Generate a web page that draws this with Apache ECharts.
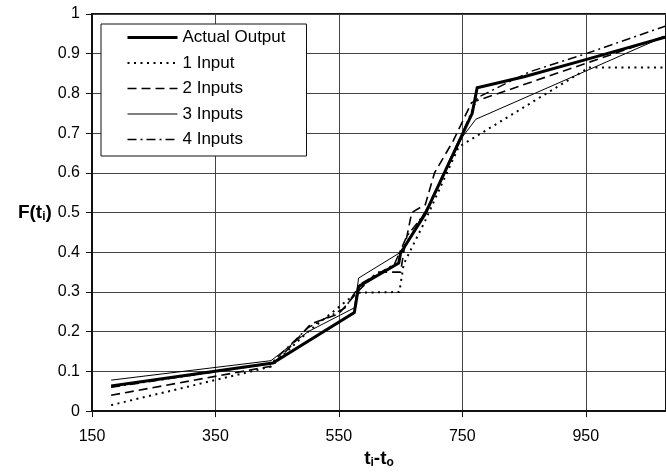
<!DOCTYPE html>
<html>
<head>
<meta charset="utf-8">
<script src="https://cdn.jsdelivr.net/npm/echarts@6/dist/echarts.min.js"></script>
<style>
html,body{margin:0;padding:0;background:#fff;}
#chart{width:666px;height:474px;}
</style>
</head>
<body>
<div id="chart"></div>
<script>
// X-axis tick labels
var xTicks = [150, 350, 550, 750, 950];

// Series data (x = t_i - t_o, y = F(t_i))
var actualX = [181, 443, 575, 582, 647, 650, 690, 766, 774, 850, 950, 1080];
var actualY = [0.063, 0.121, 0.248, 0.314, 0.373, 0.398, 0.497, 0.75, 0.814, 0.842, 0.885, 0.942];

var in1X = [181, 440, 500, 579, 648, 655, 690, 744, 955, 1080];
var in1Y = [0.015, 0.112, 0.2, 0.298, 0.3, 0.37, 0.48, 0.665, 0.865, 0.865];

var in2X = [181, 440, 470, 505, 550, 580, 612, 650, 655, 668, 690, 705, 735, 765, 1080];
var in2Y = [0.04, 0.113, 0.16, 0.22, 0.245, 0.3, 0.35, 0.35, 0.40, 0.5, 0.52, 0.6, 0.68, 0.777, 0.945];

var in3X = [181, 440, 500, 575, 582, 650, 700, 750, 772, 1080];
var in3Y = [0.078, 0.127, 0.2, 0.26, 0.335, 0.40, 0.53, 0.69, 0.735, 0.945];

var in4X = [181, 440, 500, 560, 585, 640, 660, 690, 720, 750, 775, 860, 950, 1080];
var in4Y = [0.06, 0.12, 0.21, 0.26, 0.32, 0.37, 0.44, 0.50, 0.60, 0.70, 0.79, 0.855, 0.9, 0.97];

var names = ['Actual Output', '1 Input', '2 Inputs', '3 Inputs', '4 Inputs'];

function pairs(xs, ys) {
  return xs.map(function (x, i) { return [x, ys[i]]; });
}

var chart = echarts.init(document.getElementById('chart'), null, {renderer: 'canvas'});
var FONT = 'Liberation Sans, Arial, sans-serif';

var styles = {
  'Actual Output': {type: 'solid', width: 3},
  '1 Input': {type: [2, 4.5], width: 2},
  '2 Inputs': {type: [9, 5], width: 1.6},
  '3 Inputs': {type: 'solid', width: 1},
  '4 Inputs': {type: [9, 4, 2, 4], width: 1.5}
};

function mk(name, xs, ys) {
  var s = styles[name];
  return {
    name: name,
    type: 'line',
    data: pairs(xs, ys),
    symbol: 'none',
    showSymbol: false,
    animation: false,
    lineStyle: {color: '#000', width: s.width, type: s.type, cap: 'butt', join: 'miter'},
    itemStyle: {color: '#000'}
  };
}

var subRich = {s: {fontFamily: FONT, fontSize: 12, fontWeight: 'bold', verticalAlign: 'bottom', padding: [9, 0, 0, 0], color: '#000'}};

var option = {
  animation: false,
  backgroundColor: '#fff',
  textStyle: {fontFamily: FONT},
  grid: {
    left: 92, top: 14, width: 574, height: 400,
    show: true, borderColor: '#111', borderWidth: 2, backgroundColor: 'transparent'
  },
  legend: {
    show: true,
    data: names.map(function (n) {
      return {
        name: n,
        itemStyle: {opacity: 0},
        lineStyle: {color: '#000', width: styles[n].width, type: styles[n].type, cap: 'butt'}
      };
    }),
    orient: 'vertical',
    left: 101, top: 24,
    padding: [5, 21, 8, 25],
    itemWidth: 50, itemHeight: 14, itemGap: 8.5,
    backgroundColor: '#fff',
    borderColor: '#111', borderWidth: 1,
    textStyle: {fontFamily: FONT, fontSize: 17, lineHeight: 17, color: '#000'},
    selectedMode: false
  },
  xAxis: {
    type: 'value',
    min: 150, max: 1080, interval: 200,
    name: 't{s|i}-t{s|o}',
    nameLocation: 'middle',
    nameGap: 32,
    nameTextStyle: {
      fontFamily: FONT, fontSize: 19, fontWeight: 'bold', color: '#000',
      rich: subRich
    },
    axisLine: {show: true, lineStyle: {color: '#111', width: 2}},
    axisTick: {show: true, inside: false, length: 6, lineStyle: {color: '#111', width: 1}},
    axisLabel: {
      fontFamily: FONT, fontSize: 16, color: '#000', margin: 17,
      showMaxLabel: false,
      formatter: function (v) { return xTicks.indexOf(v) >= 0 ? String(v) : ''; }
    },
    splitLine: {show: true, lineStyle: {color: '#444', width: 1}}
  },
  yAxis: {
    type: 'value',
    min: 0, max: 1, interval: 0.1,
    name: 'F(t{s|i})',
    nameLocation: 'middle',
    nameRotate: 0,
    nameGap: 40,
    nameTextStyle: {
      fontFamily: FONT, fontSize: 19, fontWeight: 'bold', color: '#000', align: 'right',
      rich: subRich
    },
    axisLine: {show: true, lineStyle: {color: '#111', width: 2}},
    axisTick: {show: true, inside: false, length: 6, lineStyle: {color: '#111', width: 1}},
    axisLabel: {
      fontFamily: FONT, fontSize: 16, color: '#000', margin: 12,
      formatter: function (v) { return String(Math.round(v * 10) / 10); }
    },
    splitLine: {show: true, lineStyle: {color: '#444', width: 1}}
  },
  series: [
    mk(names[1], in1X, in1Y),
    mk(names[2], in2X, in2Y),
    mk(names[3], in3X, in3Y),
    mk(names[4], in4X, in4Y),
    mk(names[0], actualX, actualY)
  ]
};
chart.setOption(option);
</script>
</body>
</html>
